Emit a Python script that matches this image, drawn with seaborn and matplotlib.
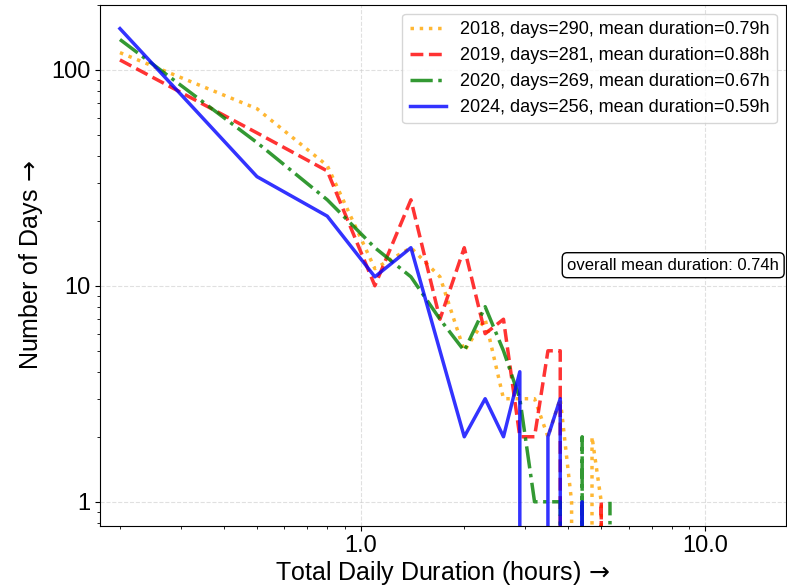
import matplotlib
matplotlib.use("Agg")
import matplotlib.pyplot as plt
import seaborn as sns
import pandas as pd
from matplotlib.ticker import FixedLocator, FixedFormatter

# ---- data ----
durations = [0.2, 0.5, 0.8, 1.1, 1.4, 1.7, 2.0, 2.3, 2.6, 2.9, 3.2, 3.5, 3.8, 4.1, 4.4, 4.7, 5.0, 5.3]
counts_2018 = [120, 66, 36, 12, 15, 11, 5, 7, 3, 3, 3, 2, 3, 1, 0, 2, 1, 0]
counts_2019 = [111, 51, 34, 10, 25, 7, 15, 6, 7, 2, 2, 5, 5, 0, 0, 0, 1, 0]
counts_2020 = [138, 46, 25, 15, 11, 7, 5, 8, 5, 3, 1, 1, 1, 0, 2, 0, 0, 1]
counts_2024 = [155, 32, 21, 11, 15, 5, 2, 3, 2, 4, 0, 2, 3, 0, 1, 0, 0, 0]
years = ["2018", "2019", "2020", "2024"]
days = [290, 281, 269, 256]
mean_durations = [0.79, 0.88, 0.67, 0.59]
overall_mean = 0.74
y_ticks = [1, 10, 100]
y_ticklabels = ["1", "10", "100"]
x_ticks = [1.0, 10.0]
x_ticklabels = ["1.0", "10.0"]

series = {"2018": counts_2018, "2019": counts_2019, "2020": counts_2020, "2024": counts_2024}
rows = []
for yr in years:
    for d, c in zip(durations, series[yr]):
        rows.append({"year": yr, "duration": d, "count": c})
df = pd.DataFrame(rows)

styles = {
    "2018": dict(color="orange", linestyle=":"),
    "2019": dict(color="red", linestyle="--"),
    "2020": dict(color="green", linestyle="-."),
    "2024": dict(color="blue", linestyle="-"),
}

plt.rcParams["font.family"] = ["Liberation Sans", "DejaVu Sans"]

fig = plt.figure(figsize=(7.87, 5.88), dpi=100)
ax = fig.add_axes([100 / 787, 1 - 525.7 / 588, 686 / 787, 521 / 588])

for yr, dy, md in zip(years, days, mean_durations):
    sub = df[df["year"] == yr]
    sns.lineplot(data=sub, x="duration", y="count", ax=ax, estimator=None, sort=False,
                 linewidth=2.5, alpha=0.8,
                 label=f"{yr}, days={dy}, mean duration={md:.2f}h", **styles[yr])

ax.set_xscale("log")
ax.set_yscale("log")
ax.set_xlim(0.175, 17.2)
ax.set_ylim(0.775, 200)

ax.yaxis.set_major_locator(FixedLocator(y_ticks))
ax.yaxis.set_major_formatter(FixedFormatter(y_ticklabels))
ax.xaxis.set_major_locator(FixedLocator(x_ticks))
ax.xaxis.set_major_formatter(FixedFormatter(x_ticklabels))
ax.tick_params(axis="both", which="major", labelsize=17)

ax.grid(True, which="major", linestyle="--", color="#cccccc", alpha=0.6)

ax.set_xlabel(r"Total Daily Duration (hours) $\!\rightarrow$", fontsize=18, labelpad=1)
ax.set_ylabel(r"Number of Days $\!\rightarrow$", fontsize=18, labelpad=4)

ax.legend(loc="upper right", fontsize=13)

ax.text(0.99, 0.5, f"overall mean duration: {overall_mean:.2f}h", transform=ax.transAxes,
        ha="right", va="center", fontsize=12,
        bbox=dict(boxstyle="round,pad=0.3", facecolor="white", edgecolor="black"))

fig.savefig("out.png", dpi=100)
